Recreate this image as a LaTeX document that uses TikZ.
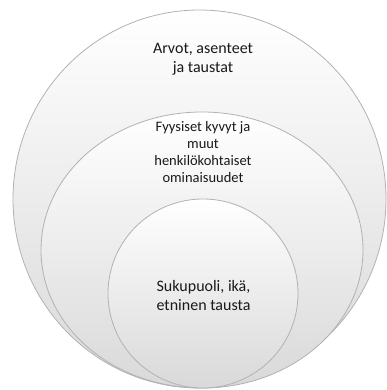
\documentclass[tikz,border=0pt]{standalone}
\usepackage{fontspec}
\setmainfont{Carlito}
\usetikzlibrary{shapes.geometric,positioning}

\begin{document}
\begin{tikzpicture}[
  x=1pt,y=-1pt,
  ring/.style={ellipse,draw=gray!60,line width=0.8pt,inner sep=0pt,
    top color=white,middle color=gray!5,bottom color=gray!30},
  lbl/.style={align=center,text=black!90,font=\fontsize{16}{19}\selectfont},
  slbl/.style={lbl,font=\fontsize{14.5}{17}\selectfont}
]
\useasboundingbox (0,0) rectangle (387,390);
% stacked rings, all touching at the bottom
\node[ring,minimum width=373pt,minimum height=378pt] (outer) at (199.5,199) {};
\node[ring,minimum width=322pt,minimum height=276pt] (middle) at (202,250) {};
\node[ring,minimum width=190pt,minimum height=189pt] (inner) at (203,293.5) {};
\node[lbl] (values) at (203,59) {Arvot, asenteet\\ja taustat};
\node[slbl] (abilities) at (203,152) {Fyysiset kyvyt ja\\muut\\henkilökohtaiset\\ominaisuudet};
\node[lbl] (background) at (203.5,296) {Sukupuoli, ikä,\\etninen tausta};
\end{tikzpicture}
\end{document}
